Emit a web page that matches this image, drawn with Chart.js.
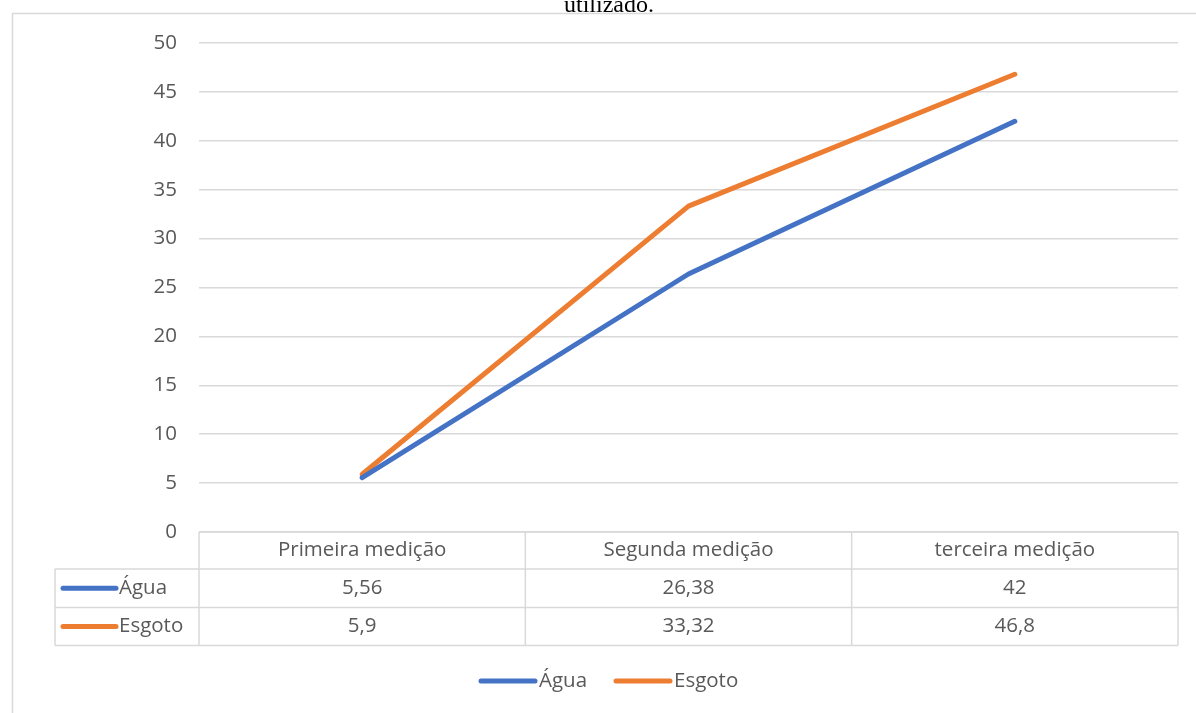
<!DOCTYPE html>
<html>
<head>
<meta charset="utf-8">
<style>
  html, body { margin: 0; padding: 0; background: #ffffff; }
  #wrap { position: relative; width: 1196px; height: 713px; }
  canvas { display: block; }
</style>
<script src="https://cdn.jsdelivr.net/npm/chart.js@4/dist/chart.umd.min.js"></script>
</head>
<body>
<div id="wrap"><canvas id="c" width="1196" height="713"></canvas></div>
<script>
// Measurements and series
const categories = ['Primeira medição', 'Segunda medição', 'terceira medição'];
const seriesNames = ['Água', 'Esgoto'];
const aguaValues = [5.56, 26.38, 42];
const esgotoValues = [5.9, 33.32, 46.8];
const seriesColors = ['#4472C4', '#ED7D31'];
const titleText = 'utilizado.';

const FONT = '"Open Sans", "Noto Sans", sans-serif';
const FONT_SIZE = 20.5;
const TEXT = '#595959';
const RULE = '#d9d9d9';
const LINE_W = 5;

// Formats a number the Portuguese way (decimal comma)
function fmt(v) { return String(v).replace('.', ','); }

// Frame, partial caption, data table and legend
const decor = {
  id: 'decor',
  beforeDraw(chart) {
    const ctx = chart.ctx;
    ctx.save();
    // caption line above the chart frame (cut by the page edge)
    ctx.fillStyle = '#000000';
    ctx.font = '24px "Liberation Serif", "Times New Roman", serif';
    ctx.textAlign = 'center';
    ctx.textBaseline = 'alphabetic';
    ctx.fillText(titleText, 609, 12);
    // chart frame
    ctx.strokeStyle = RULE;
    ctx.lineWidth = 1.5;
    ctx.beginPath();
    ctx.moveTo(12.5, 713);
    ctx.lineTo(12.5, 13.5);
    ctx.lineTo(1196, 13.5);
    ctx.stroke();
    ctx.restore();
  },
  afterDraw(chart) {
    const ctx = chart.ctx;
    const area = chart.chartArea;
    const xs = chart.scales.x;
    const n = categories.length;
    const colW = (area.right - area.left) / n;
    const rows = [area.bottom, 569, 607.5, 645.5];
    const keyLeft = 55;

    ctx.save();
    ctx.strokeStyle = RULE;
    ctx.lineWidth = 1.5;
    ctx.beginPath();
    // horizontal rules of the table
    ctx.moveTo(area.left, rows[0]); ctx.lineTo(area.right, rows[0]);
    for (let r = 1; r < rows.length; r++) {
      ctx.moveTo(keyLeft, rows[r]); ctx.lineTo(area.right, rows[r]);
    }
    // vertical rules
    for (let i = 0; i <= n; i++) {
      const x = area.left + i * colW;
      ctx.moveTo(x, rows[0]); ctx.lineTo(x, rows[3]);
    }
    ctx.moveTo(keyLeft, rows[1]); ctx.lineTo(keyLeft, rows[3]);
    ctx.stroke();

    ctx.font = FONT_SIZE + 'px ' + FONT;
    ctx.fillStyle = TEXT;
    ctx.textAlign = 'center';
    ctx.textBaseline = 'middle';
    categories.forEach((c, i) => {
      ctx.fillText(c, xs.getPixelForValue(i), (rows[0] + rows[1]) / 2);
    });
    const datasets = chart.data.datasets;
    datasets.forEach((ds, r) => {
      const yMid = (rows[r + 1] + rows[r + 2]) / 2;
      ds.data.forEach((v, i) => {
        ctx.textAlign = 'center';
        ctx.fillText(fmt(v), xs.getPixelForValue(i), yMid);
      });
      // key in the table's first column
      ctx.strokeStyle = ds.borderColor;
      ctx.lineWidth = LINE_W;
      ctx.lineCap = 'round';
      ctx.beginPath();
      ctx.moveTo(63, yMid); ctx.lineTo(116, yMid);
      ctx.stroke();
      ctx.textAlign = 'left';
      ctx.fillText(ds.label, 119, yMid);
    });

    // legend below the table
    const legY = 681;
    const keyLen = 54;
    const gap = 4;
    const starts = [481, 616];
    datasets.forEach((ds, i) => {
      const x = starts[i];
      ctx.strokeStyle = ds.borderColor;
      ctx.lineWidth = LINE_W;
      ctx.lineCap = 'round';
      ctx.beginPath();
      ctx.moveTo(x, legY); ctx.lineTo(x + keyLen, legY);
      ctx.stroke();
      ctx.textAlign = 'left';
      ctx.fillStyle = TEXT;
      ctx.fillText(ds.label, x + keyLen + gap, legY);
    });
    ctx.restore();
  }
};

new Chart(document.getElementById('c'), {
  type: 'line',
  data: {
    labels: categories,
    datasets: [
      { label: seriesNames[0], data: aguaValues, borderColor: seriesColors[0], backgroundColor: seriesColors[0] },
      { label: seriesNames[1], data: esgotoValues, borderColor: seriesColors[1], backgroundColor: seriesColors[1] }
    ]
  },
  options: {
    responsive: false,
    animation: false,
    devicePixelRatio: 1,
    layout: { padding: { left: 0, top: 43, right: 18, bottom: 181 } },
    elements: {
      line: { borderWidth: LINE_W, tension: 0, borderCapStyle: 'round', borderJoinStyle: 'round' },
      point: { radius: 0, hoverRadius: 0 }
    },
    plugins: { legend: { display: false }, tooltip: { enabled: false }, title: { display: false } },
    scales: {
      x: { type: 'category', offset: true, display: false },
      y: {
        min: 0, max: 50,
        ticks: { stepSize: 5, color: TEXT, font: { family: FONT, size: FONT_SIZE }, padding: 22 },
        grid: { color: RULE, lineWidth: 1.5, drawTicks: false },
        border: { display: false },
        afterFit(scale) { scale.width = 199; }
      }
    }
  },
  plugins: [decor]
});
</script>
</body>
</html>
